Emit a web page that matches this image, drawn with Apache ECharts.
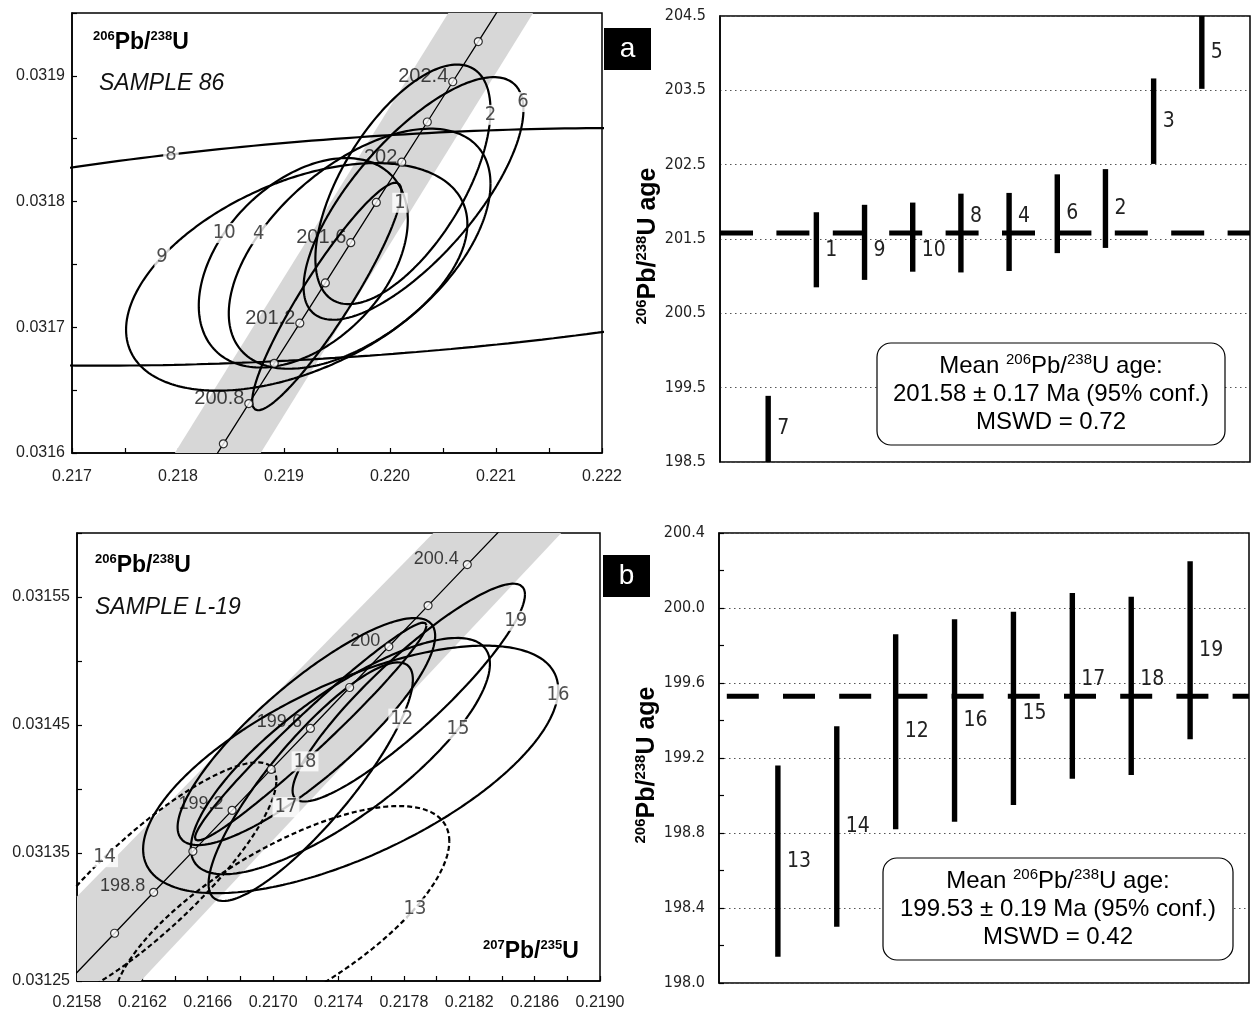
<!DOCTYPE html>
<html>
<head>
<meta charset="utf-8">
<title>U-Pb concordia and weighted mean ages</title>
<script src="https://cdn.jsdelivr.net/npm/echarts@6.0.0/dist/echarts.min.js"></script>
<style>
  html, body { margin: 0; padding: 0; background: #fff; }
  #chart { width: 1254px; height: 1015px; }
</style>
</head>
<body>
<div id="chart"></div>
<script>
// ---------- panel a : sample 86 ----------
// concordia ticks: age (Ma), 207Pb/235U, 206Pb/238U
const concA_age = [200.4, 200.6, 200.8, 201.0, 201.2, 201.4, 201.6, 201.8, 202.0, 202.2, 202.4, 202.6, 202.8]
const concA_x = [0.218188, 0.218428, 0.218668, 0.218908, 0.219149, 0.219390, 0.219630, 0.219871, 0.220111, 0.220352, 0.220592, 0.220833, 0.221074]
const concA_y = [0.0315753, 0.0316073, 0.0316393, 0.0316713, 0.0317033, 0.0317353, 0.0317673, 0.0317993, 0.0318313, 0.0318633, 0.0318953, 0.0319273, 0.0319593]
const concA_labels = [200.8, 201.2, 201.6, 202, 202.4]
// decay constant uncertainty band
const bandA_x = [0.21797, 0.21878, 0.22135, 0.22055]
const bandA_y = [0.0316, 0.0316, 0.03195, 0.03195]
// error ellipses: centre, half extent in x and y, correlation
const ellA_grain = ['1', '2', '4', '6', '8', '9', '10']
const ellA_x = [0.219404, 0.220122, 0.2197135, 0.220222, 0.2197, 0.21912, 0.219182]
const ellA_y = [0.0317245, 0.0318137, 0.0317625, 0.0318025, 0.031764, 0.0317401, 0.0317513]
const ellA_sx = [0.000704, 0.000826, 0.0012345, 0.001037, 0.0063, 0.00161, 0.000986]
const ellA_sy = [0.0000905, 0.0000953, 0.0000955, 0.0000965, 0.0000945, 0.0000905, 0.0000833]
const ellA_rho = [0.92, 0.62, 0.54, 0.73, 0.386, 0.465, 0.41]
// weighted mean plot
const barA_grain = ['7', '1', '9', '10', '8', '4', '6', '2', '3', '5']
const barA_low = [198.3, 200.85, 200.95, 201.06, 201.05, 201.07, 201.31, 201.38, 202.51, 203.52]
const barA_high = [199.39, 201.86, 201.96, 201.99, 202.11, 202.12, 202.37, 202.44, 203.66, 204.7]
const meanA = 201.58

// ---------- panel b : sample L-19 ----------
const concB_age = [198.4, 198.6, 198.8, 199.0, 199.2, 199.4, 199.6, 199.8, 200.0, 200.2, 200.4, 200.6]
const concB_x = [0.215790, 0.216030, 0.216269, 0.216509, 0.216749, 0.216988, 0.217228, 0.217468, 0.217708, 0.217948, 0.218188, 0.218428]
const concB_y = [0.0312553, 0.0312873, 0.0313193, 0.0313513, 0.0313833, 0.0314153, 0.0314473, 0.0314793, 0.0315113, 0.0315433, 0.0315753, 0.0316073]
const concB_labels = [198.8, 199.2, 199.6, 200, 200.4]
const bandB_x = [0.2158, 0.21619, 0.218763, 0.21798, 0.2158]
const bandB_y = [0.03125, 0.03125, 0.0316, 0.0316, 0.031316]
const ellB_grain = ['12', '13', '14', '15', '16', '17', '18', '19']
const ellB_x = [0.21723, 0.217048, 0.21622, 0.2174115, 0.2174745, 0.2172035, 0.21723, 0.21783]
const ellB_y = [0.0314057, 0.0312953, 0.0313249, 0.0314257, 0.0314153, 0.0314449, 0.0314449, 0.0314753]
const ellB_sx = [0.000625, 0.00103, 0.0008, 0.000915, 0.00127, 0.000788, 0.000708, 0.000711]
const ellB_sy = [0.0000932, 0.0000914, 0.0000959, 0.0000923, 0.0000967, 0.0000887, 0.0000851, 0.0000851]
const ellB_rho = [0.856, 0.70, 0.853, 0.78, 0.645, 0.842, 0.974, 0.90]
const ellB_dashed = ['13', '14']
const barB_grain = ['13', '14', '12', '16', '15', '17', '18', '19']
const barB_low = [198.14, 198.30, 198.82, 198.86, 198.95, 199.09, 199.11, 199.30]
const barB_high = [199.16, 199.37, 199.86, 199.94, 199.98, 200.08, 200.06, 200.25]
const meanB = 199.53

const FONT = "'Liberation Sans', Arial, Helvetica, sans-serif"
const NARROW = "'Liberation Sans Narrow', 'DejaVu Sans Condensed', 'Liberation Sans', sans-serif"

// where each ellipse label sits on its outline (parametric angle)
const labelAngle = {
  '1': -0.2, '2': -0.05, '4': 2.45, '6': 0.1, '8': 1.855, '9': 2.48, '10': 2.43,
  '12': -0.47, '13': -0.65, '14': 1.89, '15': -0.665, '16': -0.05, '17': -1.73, '18': -1.62, '19': -0.4
}

function ellipsePoint (xc, yc, sx, sy, rho, t) {
  const k = Math.sqrt(1 - rho * rho)
  return [xc + sx * Math.cos(t), yc + sy * (rho * Math.cos(t) + k * Math.sin(t))]
}

function ellipsePoints (xc, yc, sx, sy, rho) {
  const pts = []
  for (let i = 0; i <= 360; i++) {
    pts.push(ellipsePoint(xc, yc, sx, sy, rho, i / 360 * 2 * Math.PI))
  }
  return pts
}

const supRich = (size, sup) => ({
  m: { fontFamily: FONT, fontWeight: 'bold', fontSize: size, lineHeight: size + 4, color: '#000' },
  s: { fontFamily: FONT, fontWeight: 'bold', fontSize: sup, lineHeight: sup + 2, verticalAlign: 'top', color: '#000' }
})

function concordiaSeries (gi, ages, xs, ys, labelAges, bandX, bandY, ext, lab) {
  const pts = ages.map((a, i) => ({ name: String(a), value: [xs[i], ys[i]] }))
  const inside = d => d.value[0] >= ext[0] && d.value[0] <= ext[1] && d.value[1] >= ext[2] && d.value[1] <= ext[3]
  return [
    {
      type: 'custom', xAxisIndex: gi, yAxisIndex: gi, z: 1, silent: true,
      data: [[bandX[0], bandY[0]]],
      renderItem: (params, api) => ({
        type: 'polygon',
        shape: { points: bandX.map((x, i) => api.coord([x, bandY[i]])) },
        style: { fill: '#d7d7d7' }
      })
    },
    {
      type: 'line', xAxisIndex: gi, yAxisIndex: gi, z: 2, silent: true, symbol: 'none',
      data: xs.map((x, i) => [x, ys[i]]),
      lineStyle: { color: '#000', width: 1.3 }
    },
    {
      type: 'scatter', xAxisIndex: gi, yAxisIndex: gi, z: 2, silent: true, symbolSize: 1,
      itemStyle: { color: 'rgba(0,0,0,0)' },
      data: pts.filter(d => labelAges.includes(Number(d.name))),
      label: {
        show: true, position: 'left', distance: lab.dist, offset: [0, lab.dy], formatter: '{b}',
        fontFamily: FONT, fontSize: lab.size, color: '#111'
      }
    },
    {
      type: 'scatter', xAxisIndex: gi, yAxisIndex: gi, z: 4, silent: true,
      symbol: 'circle', symbolSize: 8,
      data: pts.filter(inside),
      itemStyle: { color: '#fff', borderColor: '#000', borderWidth: 1.2 }
    }
  ]
}

function ellipseSeries (gi, grains, xs, ys, sxs, sys, rhos, dashed) {
  const out = grains.map((g, i) => ({
    type: 'line', xAxisIndex: gi, yAxisIndex: gi, z: 3, silent: true, symbol: 'none',
    data: ellipsePoints(xs[i], ys[i], sxs[i], sys[i], rhos[i]),
    lineStyle: { color: '#000', width: 2.2, type: dashed.includes(g) ? [5, 3] : 'solid' }
  }))
  out.push({
    type: 'scatter', xAxisIndex: gi, yAxisIndex: gi, z: 5, silent: true, symbolSize: 1,
    itemStyle: { color: 'rgba(0,0,0,0)' },
    data: grains.map((g, i) => ({
      name: g,
      value: ellipsePoint(xs[i], ys[i], sxs[i], sys[i], rhos[i], labelAngle[g])
    })),
    label: {
      show: true, position: 'inside', formatter: '{b}',
      fontFamily: NARROW, fontSize: 20, color: '#222',
      backgroundColor: '#fff', padding: [0, 2]
    }
  })
  return out
}

function meanSeries (gi, grains, lows, highs, mean, xmax, dash, dashOffset) {
  return [
    {
      type: 'line', xAxisIndex: gi, yAxisIndex: gi, z: 3, silent: true, symbol: 'none',
      data: [[0, mean], [xmax, mean]],
      lineStyle: { color: '#000', width: 5, type: dash, dashOffset: dashOffset }
    },
    {
      type: 'custom', xAxisIndex: gi, yAxisIndex: gi, z: 4, silent: true,
      data: grains.map((g, i) => [i + 1, lows[i], highs[i]]),
      renderItem: (params, api) => {
        const cs = params.coordSys
        const x = api.coord([api.value(0), mean])[0]
        const top = Math.max(api.coord([0, api.value(2)])[1], cs.y)
        const bottom = Math.min(api.coord([0, api.value(1)])[1], cs.y + cs.height)
        const m = api.coord([0, mean])[1]
        let ly = (top + bottom) / 2
        if (Math.abs(ly - m) < 17) ly = ly <= m ? m - 17 : m + 17
        return {
          type: 'group',
          children: [
            { type: 'rect', shape: { x: x - 2.7, y: top, width: 5.4, height: bottom - top }, style: { fill: '#000' } },
            {
              type: 'text', x: x + 9, y: ly,
              style: {
                text: grains[params.dataIndex], fontFamily: NARROW, fontSize: 21, fill: '#222',
                align: 'left', verticalAlign: 'middle'
              }
            }
          ]
        }
      }
    }
  ]
}

function concAxis (gi, min, max, interval, keep, digits, margin) {
  return {
    gridIndex: gi, type: 'value', min: min, max: max, interval: interval,
    axisLine: { show: true, onZero: false, lineStyle: { color: '#000', width: 1.5 } },
    axisTick: { show: true, inside: true, length: 5, lineStyle: { color: '#000', width: 1.2 } },
    axisLabel: {
      formatter: v => keep(v) ? v.toFixed(digits) : '',
      fontFamily: FONT, fontSize: 16, color: '#222', margin: margin
    },
    splitLine: { show: false }
  }
}

function ageAxis (gi, min, max, interval, keep, ticks) {
  return {
    gridIndex: gi, type: 'value', min: min, max: max, interval: interval,
    axisLine: { show: true, lineStyle: { color: '#000', width: 1.5 } },
    axisTick: { show: ticks, inside: true, length: 5, lineStyle: { color: '#000', width: 1.2 } },
    axisLabel: {
      formatter: v => keep(v) ? v.toFixed(1) : '',
      fontFamily: NARROW, fontSize: 16, color: '#222', margin: 14
    },
    splitLine: { show: true, lineStyle: { color: ['#555', 'rgba(0,0,0,0)'], width: 1.2, type: [1.5, 3.5] } },
    name: '{s|206}{m|Pb/}{s|238}{m|U age}',
    nameLocation: 'middle', nameRotate: 90, nameGap: 52,
    nameTextStyle: { rich: supRich(25, 15), padding: [0, 14, 0, 0] }
  }
}

function boxGraphic (x, y, w, h, lines) {
  return [
    {
      type: 'rect', z: 100, shape: { x: x, y: y, width: w, height: h, r: 14 },
      style: { fill: '#fff', stroke: '#000', lineWidth: 1.2 }
    },
    {
      type: 'text', z: 101, x: x + w / 2, y: y + h / 2,
      style: {
        text: '{t|Mean }{s|206}{t|Pb/}{s|238}{t|U age:}\n{t|' + lines[0] + '}\n{t|' + lines[1] + '}',
        align: 'center', verticalAlign: 'middle',
        rich: {
          t: { fontFamily: FONT, fontSize: 24, lineHeight: 28, color: '#111' },
          s: { fontFamily: FONT, fontSize: 15, lineHeight: 16, verticalAlign: 'top', color: '#111' }
        }
      }
    }
  ]
}

function tag (x, y, letter) {
  return [
    { type: 'rect', z: 100, shape: { x: x, y: y, width: 47, height: 42 }, style: { fill: '#000' } },
    {
      type: 'text', z: 101, x: x + 23.5, y: y + 21,
      style: { text: letter, fontFamily: FONT, fontSize: 28, fill: '#fff', align: 'center', verticalAlign: 'middle' }
    }
  ]
}

function label (x, y, text, rich) {
  return { type: 'text', z: 100, x: x, y: y, style: { text: text, rich: rich, verticalAlign: 'middle' } }
}

function italic (x, y, text) {
  return {
    type: 'text', z: 100, x: x, y: y,
    style: { text: text, fontFamily: FONT, fontStyle: 'italic', fontSize: 23, fill: '#111', verticalAlign: 'middle' }
  }
}

const chart = echarts.init(document.getElementById('chart'))

chart.setOption({
  animation: false,
  backgroundColor: '#fff',
  grid: [
    { left: 72, top: 13, width: 530, height: 440, show: true, borderColor: '#000', borderWidth: 1.5 },
    { left: 720, top: 16, width: 530, height: 446, show: true, borderColor: '#000', borderWidth: 1.5 },
    { left: 77, top: 533, width: 523, height: 448, show: true, borderColor: '#000', borderWidth: 1.5 },
    { left: 719, top: 533, width: 530, height: 450, show: true, borderColor: '#000', borderWidth: 1.5 }
  ],
  xAxis: [
    concAxis(0, 0.217, 0.222, 0.0005, v => Math.round(v * 1e4) % 10 === 0, 3, 16),
    { gridIndex: 1, type: 'value', min: 0, max: 11, show: false },
    concAxis(2, 0.2158, 0.219, 0.0002, v => Math.round(v * 1e4) % 4 === 2, 4, 14),
    { gridIndex: 3, type: 'value', min: 0, max: 9, show: false }
  ],
  yAxis: [
    concAxis(0, 0.0316, 0.03195, 0.00005, v => Math.round(v * 1e5) % 10 === 0, 4, 7),
    ageAxis(1, 198.5, 204.5, 0.5, v => Math.round(v * 10) % 10 === 5, false),
    concAxis(2, 0.03125, 0.0316, 0.00005, v => Math.round(v * 1e5) % 10 === 5, 5, 7),
    ageAxis(3, 198.0, 200.4, 0.2, v => Math.round(v * 10) % 4 === 0, true)
  ],
  series: [].concat(
    concordiaSeries(0, concA_age, concA_x, concA_y, concA_labels, bandA_x, bandA_y,
      [0.217, 0.222, 0.0316, 0.03195], { dist: 4, dy: -5, size: 20 }),
    ellipseSeries(0, ellA_grain, ellA_x, ellA_y, ellA_sx, ellA_sy, ellA_rho, []),
    meanSeries(1, barA_grain, barA_low, barA_high, meanA, 11, [33, 23.4], 0),
    concordiaSeries(2, concB_age, concB_x, concB_y, concB_labels, bandB_x, bandB_y,
      [0.2158, 0.219, 0.03125, 0.0316], { dist: 8, dy: -6, size: 18 }),
    ellipseSeries(2, ellB_grain, ellB_x, ellB_y, ellB_sx, ellB_sy, ellB_rho, ellB_dashed),
    meanSeries(3, barB_grain, barB_low, barB_high, meanB, 9, [32, 24.2], 48.4)
  ),
  graphic: [].concat(
    label(93, 43, '{s|206}{m|Pb/}{s|238}{m|U}', supRich(23, 13)),
    italic(99, 84, 'SAMPLE 86'),
    label(95, 566, '{s|206}{m|Pb/}{s|238}{m|U}', supRich(23, 13)),
    italic(95, 608, 'SAMPLE L-19'),
    label(483, 952, '{s|207}{m|Pb/}{s|235}{m|U}', supRich(23, 13)),
    tag(604, 28, 'a'),
    tag(603, 555, 'b'),
    boxGraphic(877, 343, 348, 102, ['201.58 ± 0.17 Ma (95% conf.)', 'MSWD = 0.72']),
    boxGraphic(883, 858, 350, 102, ['199.53 ± 0.19 Ma (95% conf.)', 'MSWD = 0.42'])
  )
})
</script>
</body>
</html>
